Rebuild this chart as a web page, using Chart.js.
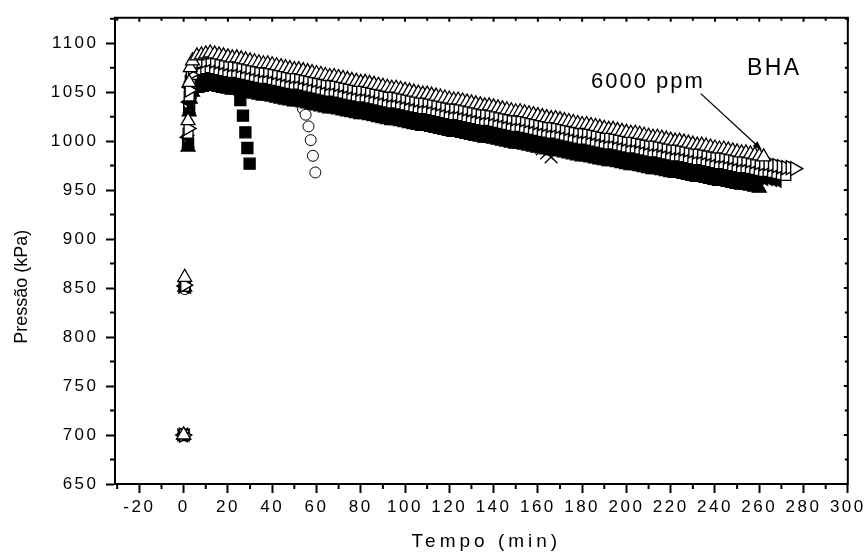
<!DOCTYPE html>
<html>
<head>
<meta charset="utf-8">
<script src="https://cdn.jsdelivr.net/npm/chart.js@4"></script>
<style>
  html, body { margin: 0; background: #fff; }
  #wrap { width: 866px; height: 554px; }
</style>
</head>
<body>
<div id="wrap"><canvas id="grafico"></canvas></div>
<script>
// Tempo (min) comum às séries longas
const tempo = [0, 0.5, 2, 2.5, 3, 4,
	6, 8, 10, 12, 14, 16, 18, 20, 22, 24, 26, 28, 30, 32, 34, 36, 38, 40, 42, 44, 46, 48, 50, 52,
	54, 56, 58, 60, 62, 64, 66, 68, 70, 72, 74, 76, 78, 80, 82, 84, 86, 88, 90, 92, 94, 96, 98, 100,
	102, 104, 106, 108, 110, 112, 114, 116, 118, 120, 122, 124, 126, 128, 130, 132, 134, 136, 138, 140,
	142, 144, 146, 148, 150, 152, 154, 156, 158, 160, 162, 164, 166, 168, 170, 172, 174, 176, 178, 180,
	182, 184, 186, 188, 190, 192, 194, 196, 198, 200, 202, 204, 206, 208, 210, 212, 214, 216, 218, 220,
	222, 224, 226, 228, 230, 232, 234, 236, 238, 240, 242, 244, 246, 248, 250, 252, 254, 256, 258, 260,
	262, 264, 266, 268, 270, 272, 274, 276, 278]

// séries que explodem cedo têm tempos próprios
const tempoQuadrado = [0, 0.5, 2, 2.5, 3, 4, 6, 8, 10, 12, 14, 16, 18, 20, 22, 24,
	25.6, 26.8, 27.9, 28.8, 29.8]
const tempoCirculo = [0, 0.5, 2, 2.5, 3, 4, 6, 8, 10, 12, 14, 16, 18, 20, 22, 24, 26, 28, 30,
	32, 34, 36, 38, 40, 42, 44, 46, 48, 50, 52, 53.9, 55.1, 56.4, 57.4, 58.4, 59.5]

// Pressão (kPa)
const pressaoQuadrado = [700, 851, 997, 1033, 1048, 1054,
	1057, 1058, 1059, 1060, 1059, 1058, 1057, 1056, 1055, 1055,
	1042, 1026, 1009, 993, 977]

const pressaoCirculo = [700, 849, 1004, 1038, 1052, 1060,
	1067, 1068, 1069, 1070, 1069, 1068, 1067, 1066, 1065, 1065, 1064, 1063, 1062, 1061, 1060,
	1059, 1059, 1058, 1057, 1056, 1055, 1054, 1053, 1053,
	1033, 1027, 1015, 1001, 985, 968]

const pressaoCruz = [700, 851, 1000, 1035, 1050, 1056,
	1060, 1061, 1062, 1063, 1062,
	1061, 1060, 1059, 1058, 1058, 1057, 1056, 1055, 1054, 1053,
	1052, 1052, 1051, 1050, 1049, 1048, 1047, 1046, 1046, 1045,
	1044, 1043, 1042, 1041, 1040, 1039, 1039, 1038, 1037, 1036,
	1035, 1034, 1033, 1033, 1032, 1031, 1030, 1029, 1028, 1027,
	1027, 1026, 1025, 1024, 1023, 1022, 1021, 1021, 1020, 1019,
	1018, 1017, 1016, 1015, 1015, 1014, 1013, 1012, 1011, 1010,
	1009, 1009, 1008, 1007, 1006, 1005, 1004, 1003, 1003, 1002,
	1001, 1000, 995, 992, 988, 984]

const pressaoTrianguloCheio = [700, 851, 994, 1030, 1043, 1050,
	1054, 1055, 1056, 1057, 1056,
	1055, 1054, 1053, 1052, 1052, 1051, 1050, 1049, 1048, 1047,
	1046, 1046, 1045, 1044, 1043, 1042, 1041, 1040, 1040, 1039,
	1038, 1037, 1036, 1035, 1034, 1033, 1033, 1032, 1031, 1030,
	1029, 1028, 1027, 1027, 1026, 1025, 1024, 1023, 1022, 1021,
	1021, 1020, 1019, 1018, 1017, 1016, 1015, 1015, 1014, 1013,
	1012, 1011, 1010, 1009, 1009, 1008, 1007, 1006, 1005, 1004,
	1003, 1003, 1002, 1001, 1000, 999, 998, 997, 997, 996,
	995, 994, 993, 992, 991, 990, 990, 989, 988, 987,
	986, 985, 984, 984, 983, 982, 981, 980,
	979, 979, 978, 977, 976, 975, 975, 974, 973, 972,
	971, 971, 970, 969, 968, 967, 967, 966, 965, 964,
	963, 963, 962, 961, 960, 959, 959, 958, 957, 956,
	955, 955, 954, 953, 952]

const pressaoEsquerdaCheio = [700, 852, 1004, 1040, 1055, 1061,
	1065, 1066, 1067, 1068, 1067,
	1066, 1065, 1064, 1063, 1063, 1062, 1061, 1060, 1059, 1058,
	1057, 1057, 1056, 1055, 1054, 1053, 1052, 1051, 1051, 1050,
	1049, 1048, 1047, 1046, 1045, 1044, 1044, 1043, 1042, 1041,
	1040, 1039, 1038, 1038, 1037, 1036, 1035, 1034, 1033, 1032,
	1032, 1031, 1030, 1029, 1028, 1027, 1026, 1026, 1025, 1024,
	1023, 1022, 1021, 1020, 1020, 1019, 1018, 1017, 1016, 1015,
	1014, 1014, 1013, 1012, 1011, 1010, 1009, 1008, 1008, 1007,
	1006, 1005, 1004, 1003, 1002, 1001, 1001, 1000, 999, 998,
	997, 996, 995, 995, 994, 993, 992, 991,
	990, 990, 989, 988, 987, 986, 986, 985, 984, 983,
	982, 982, 981, 980, 979, 978, 978, 977, 976, 975,
	974, 974, 973, 972, 971, 970, 970, 969, 968, 967,
	966, 966, 965, 964, 963, 962, 962, 961, 960]

const pressaoQuadradoAberto = [700, 852, 1008, 1046, 1062, 1068,
	1072, 1073, 1074, 1075, 1074,
	1073, 1072, 1071, 1070, 1070, 1069, 1068, 1067, 1066, 1065,
	1064, 1064, 1063, 1062, 1061, 1060, 1059, 1058, 1058, 1057,
	1056, 1055, 1054, 1053, 1052, 1051, 1051, 1050, 1049, 1048,
	1047, 1046, 1045, 1045, 1044, 1043, 1042, 1041, 1040, 1039,
	1039, 1038, 1037, 1036, 1035, 1034, 1033, 1033, 1032, 1031,
	1030, 1029, 1028, 1027, 1027, 1026, 1025, 1024, 1023, 1022,
	1021, 1021, 1020, 1019, 1018, 1017, 1016, 1015, 1015, 1014,
	1013, 1012, 1011, 1010, 1009, 1008, 1008, 1007, 1006, 1005,
	1004, 1003, 1002, 1002, 1001, 1000, 999, 998,
	997, 997, 996, 995, 994, 993, 993, 992, 991, 990,
	989, 989, 988, 987, 986, 985, 985, 984, 983, 982,
	981, 981, 980, 979, 978, 977, 977, 976, 975, 974,
	973, 973, 972, 971, 970, 969, 969, 968, 967, 966, 965]

const pressaoDireitaAberto = [700, 853, 1013, 1052, 1068, 1075,
	1080, 1081, 1082, 1083, 1082,
	1081, 1080, 1079, 1078, 1078, 1077, 1076, 1075, 1074, 1073,
	1072, 1072, 1071, 1070, 1069, 1068, 1067, 1066, 1066, 1065,
	1064, 1063, 1062, 1061, 1060, 1059, 1059, 1058, 1057, 1056,
	1055, 1054, 1053, 1053, 1052, 1051, 1050, 1049, 1048, 1047,
	1047, 1046, 1045, 1044, 1043, 1042, 1041, 1041, 1040, 1039,
	1038, 1037, 1036, 1035, 1035, 1034, 1033, 1032, 1031, 1030,
	1029, 1029, 1028, 1027, 1026, 1025, 1024, 1023, 1023, 1022,
	1021, 1020, 1019, 1018, 1017, 1016, 1016, 1015, 1014, 1013,
	1012, 1011, 1010, 1010, 1009, 1008, 1007, 1006,
	1005, 1005, 1004, 1003, 1002, 1001, 1001, 1000, 999, 998,
	997, 997, 996, 995, 994, 993, 993, 992, 991, 990,
	989, 989, 988, 987, 986, 985, 985, 984, 983, 982,
	981, 981, 980, 979, 978, 977, 977, 976, 975, 974, 973, 973, 972]

// 6000 ppm
const pressaoTrianguloAberto = [700, 861, 1021, 1060, 1075, 1082,
	1087, 1088, 1089, 1090, 1089,
	1088, 1087, 1086, 1085, 1085, 1084, 1083, 1082, 1081, 1080,
	1079, 1079, 1078, 1077, 1076, 1075, 1074, 1073, 1073, 1072,
	1071, 1070, 1069, 1068, 1067, 1066, 1066, 1065, 1064, 1063,
	1062, 1061, 1060, 1060, 1059, 1058, 1057, 1056, 1055, 1054,
	1054, 1053, 1052, 1051, 1050, 1049, 1048, 1048, 1047, 1046,
	1045, 1044, 1043, 1042, 1042, 1041, 1040, 1039, 1038, 1037,
	1036, 1036, 1035, 1034, 1033, 1032, 1031, 1030, 1030, 1029,
	1028, 1027, 1026, 1025, 1024, 1023, 1023, 1022, 1021, 1020,
	1019, 1018, 1017, 1017, 1016, 1015, 1014, 1013,
	1012, 1012, 1011, 1010, 1009, 1008, 1008, 1007, 1006, 1005,
	1004, 1004, 1003, 1002, 1001, 1000, 1000, 999, 998, 997,
	996, 996, 995, 994, 993, 992, 992, 991, 990, 989,
	988, 988, 987, 986, 985, 984]

// anotações em unidades dos eixos (min, kPa)
const rotuloBHA = { x: 254.5, y: 1067, texto: 'BHA' }
const rotuloPpm = { x: 184, y: 1054, texto: '6000 ppm' }
const inicioSeta = { x: 233.6, y: 1048.5 }

const fonte = '"Liberation Sans", Arial, Helvetica, sans-serif'

const pontos = (t, p) => p.map((v, i) => ({ x: t[i], y: v }))

const serie = (t, p, estilo) => ({
	data: pontos(t, p),
	showLine: false,
	borderColor: '#000',
	pointBorderWidth: 1.3,
	...estilo
})

// a primeira série fica por cima
const datasets = [
	serie(tempo, pressaoTrianguloAberto, { pointStyle: 'triangle', pointRadius: 8, pointBackgroundColor: '#fff' }),
	serie(tempo, pressaoDireitaAberto, { pointStyle: 'triangle', pointRotation: 90, pointRadius: 8, pointBackgroundColor: '#fff', pointBorderWidth: 1.4 }),
	serie(tempo, pressaoQuadradoAberto, { pointStyle: 'rect', pointRadius: 7, pointBackgroundColor: '#fff' }),
	serie(tempo, pressaoEsquerdaCheio, { pointStyle: 'triangle', pointRotation: 270, pointRadius: 8, pointBackgroundColor: '#000' }),
	serie(tempo, pressaoCruz, { pointStyle: 'crossRot', pointRadius: 9 }),
	serie(tempo, pressaoTrianguloCheio, { pointStyle: 'triangle', pointRadius: 8, pointBackgroundColor: '#000' }),
	serie(tempoCirculo, pressaoCirculo, { pointStyle: 'circle', pointRadius: 5.5, pointBackgroundColor: '#fff', pointBorderWidth: 1 }),
	serie(tempoQuadrado, pressaoQuadrado, { pointStyle: 'rect', pointRadius: 7.8, pointBackgroundColor: '#000' })
]

// moldura, ticks menores, títulos e anotações
const molduraOrigin = {
	id: 'molduraOrigin',
	beforeDraw(chart) {
		chart.ctx.letterSpacing = '2.5px'
	},
	afterDraw(chart) {
		const { ctx, chartArea: a, scales: { x, y } } = chart
		ctx.save()
		ctx.letterSpacing = '0px'
		ctx.strokeStyle = '#000'
		ctx.fillStyle = '#000'

		ctx.lineWidth = 2
		ctx.beginPath()
		ctx.moveTo(a.left - 1, a.top)
		ctx.lineTo(a.right, a.top)
		ctx.lineTo(a.right, a.bottom + 1)
		ctx.stroke()

		ctx.beginPath()
		for (let v = -30; v <= 300; v += 10) {
			const px = x.getPixelForValue(v)
			const maior = v % 20 === 0
			if (!maior) {
				ctx.moveTo(px, a.bottom)
				ctx.lineTo(px, a.bottom + 5)
			}
			ctx.moveTo(px, a.top)
			ctx.lineTo(px, a.top + (maior ? 4 : 3))
		}
		for (let v = 650; v <= 1125; v += 25) {
			const py = y.getPixelForValue(v)
			const maior = v % 50 === 0
			if (!maior) {
				ctx.moveTo(a.left - 5, py)
				ctx.lineTo(a.left, py)
			}
			ctx.moveTo(a.right, py)
			ctx.lineTo(a.right - (maior ? 4 : 3), py)
		}
		ctx.stroke()

		// títulos dos eixos
		ctx.font = '18px ' + fonte
		ctx.textAlign = 'center'
		ctx.textBaseline = 'alphabetic'
		ctx.save()
		ctx.translate(27, (a.top + a.bottom) / 2 + 36)
		ctx.rotate(-Math.PI / 2)
		ctx.fillText('Pressão (kPa)', 0, 0)
		ctx.restore()

		ctx.font = '19px ' + fonte
		ctx.letterSpacing = '4px'
		ctx.fillText('Tempo (min)', (a.left + a.right) / 2 + 5, 547)

		// anotações
		ctx.textAlign = 'left'
		ctx.font = '23px ' + fonte
		ctx.letterSpacing = '2.4px'
		ctx.fillText(rotuloBHA.texto, x.getPixelForValue(rotuloBHA.x), y.getPixelForValue(rotuloBHA.y))
		ctx.font = '22px ' + fonte
		ctx.letterSpacing = '2px'
		ctx.fillText(rotuloPpm.texto, x.getPixelForValue(rotuloPpm.x), y.getPixelForValue(rotuloPpm.y))

		// seta até o último ponto da série de 6000 ppm
		const ultimo = chart.getDatasetMeta(0).data.at(-1)
		const x0 = x.getPixelForValue(inicioSeta.x), y0 = y.getPixelForValue(inicioSeta.y)
		const x1 = ultimo.x - 2, y1 = ultimo.y - 7
		const ang = Math.atan2(y1 - y0, x1 - x0)
		ctx.lineWidth = 1.3
		ctx.beginPath()
		ctx.moveTo(x0, y0)
		ctx.lineTo(x1 - 6 * Math.cos(ang), y1 - 6 * Math.sin(ang))
		ctx.stroke()
		ctx.beginPath()
		ctx.moveTo(x1, y1)
		ctx.lineTo(x1 - 9 * Math.cos(ang) + 3.5 * Math.sin(ang), y1 - 9 * Math.sin(ang) - 3.5 * Math.cos(ang))
		ctx.lineTo(x1 - 9 * Math.cos(ang) - 3.5 * Math.sin(ang), y1 - 9 * Math.sin(ang) + 3.5 * Math.cos(ang))
		ctx.closePath()
		ctx.fill()
		ctx.restore()
	}
}

const eixo = {
	border: { display: true, color: '#000', width: 2 },
	grid: { display: true, drawOnChartArea: false, drawTicks: true, tickLength: 9, tickWidth: 2, tickColor: '#000' }
}

new Chart(document.getElementById('grafico'), {
	type: 'scatter',
	data: { datasets },
	options: {
		responsive: true,
		maintainAspectRatio: false,
		animation: false,
		events: [],
		devicePixelRatio: 1,
		layout: { padding: { top: 17, right: 17, left: 0, bottom: 0 } },
		plugins: { legend: { display: false }, tooltip: { enabled: false } },
		scales: {
			x: {
				...eixo,
				type: 'linear',
				min: -31,
				max: 300,
				afterFit: s => { s.height = 70 },
				ticks: {
					stepSize: 20, includeBounds: false, autoSkip: false, maxRotation: 0,
					padding: 4, color: '#000', font: { family: fonte, size: 17 },
					callback: v => String(v)
				}
			},
			y: {
				...eixo,
				min: 650,
				max: 1126,
				afterFit: s => { s.width = 115 },
				ticks: {
					stepSize: 50, includeBounds: false, padding: 7.5,
					color: '#000', font: { family: fonte, size: 17 },
					callback: v => String(v)
				}
			}
		}
	},
	plugins: [molduraOrigin]
})
</script>
</body>
</html>
